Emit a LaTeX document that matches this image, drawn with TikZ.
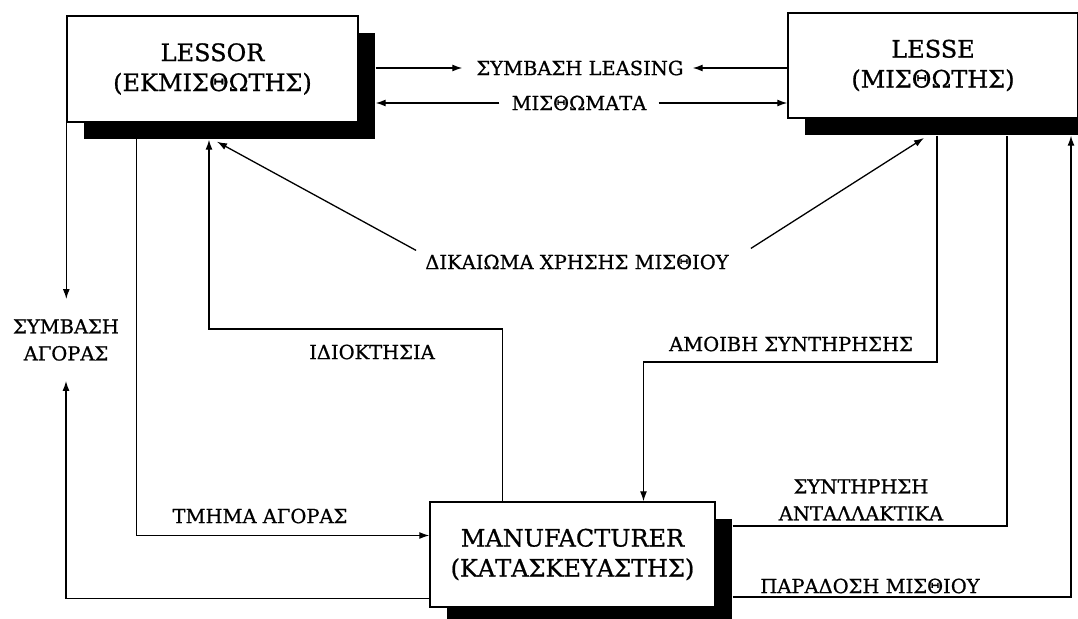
\documentclass[tikz,border=0pt]{standalone}
\usepackage{fontspec}
\setmainfont[FakeBold=0.8]{DejaVu Serif}
\usepackage{tikz}
\usetikzlibrary{arrows.meta,calc,shadows}
\colorlet{Ink}{black}

\begin{document}
\begin{tikzpicture}[
    x=1pt,y=-1pt,
    party/.style={draw=Ink,line width=1.4pt,fill=white,minimum width=291pt,minimum height=106pt,align=center,
      font=\fontsize{24}{30}\selectfont,
      drop shadow={shadow xshift=17pt,shadow yshift=-17pt,fill=Ink,opacity=1}},
    lab/.style={align=center,inner sep=0pt,font=\fontsize{19.5}{27}\selectfont},
    link/.style={line width=1.3pt,Ink},
    flow/.style={link,-{Latex[length=10pt,width=7pt]}}
  ]
    \clip (0,0) rectangle (1078,618);
    % the three parties
    \node[party] (lessor) at (212.5,69) {LESSOR\\(ΕΚΜΙΣΘΩΤΗΣ)};
    \node[party,minimum width=290pt,minimum height=105pt] (lesse) at (933,65.5) {LESSE\\(ΜΙΣΘΩΤΗΣ)};
    \node[party,minimum width=285pt,minimum height=105pt] (man) at (572.5,554.5) {MANUFACTURER\\(ΚΑΤΑΣΚΕΥΑΣΤΗΣ)};
    \coordinate (lessorsh) at ($(lessor.south east)+(17,17)$);
    \coordinate (lessesh) at ($(lesse.south east)+(17,17)$);
    \coordinate (mansh) at ($(man.south east)+(17,17)$);

    % labels
    \node[lab] (leasing) at (580,68) {ΣΥΜΒΑΣΗ LEASING};
    \node[lab] (rent) at (579,103) {ΜΙΣΘΩΜΑΤΑ};
    \node[lab,inner ysep=20pt] (buycontract) at (66,340) {ΣΥΜΒΑΣΗ\\ΑΓΟΡΑΣ};
    \node[lab] (use) at (577,262) {ΔΙΚΑΙΩΜΑ ΧΡΗΣΗΣ ΜΙΣΘΙΟΥ};
    \node[lab] (own) at (372,352) {ΙΔΙΟΚΤΗΣΙΑ};
    \node[lab] (fee) at (791,344) {ΑΜΟΙΒΗ ΣΥΝΤΗΡΗΣΗΣ};
    \node[lab] (buydept) at (260,516) {ΤΜΗΜΑ ΑΓΟΡΑΣ};
    \node[lab] (maint) at (861,500) {ΣΥΝΤΗΡΗΣΗ\\ΑΝΤΑΛΛΑΚΤΙΚΑ};
    \node[lab] (deliv) at (870,586) {ΠΑΡΑΔΟΣΗ ΜΙΣΘΙΟΥ};

    % bends of the connectors
    \coordinate (owncorner) at (209,329);
    \coordinate (usetipR) at (924,138);
    \coordinate (feecorner) at (937,362);
    \coordinate (maintcorner) at (1007,526);
    \coordinate (delivcorner) at (1071,597);

    \draw[flow] (lessorsh |- leasing) -- ([xshift=-14pt]leasing.west);
    \draw[flow] (lesse.west |- leasing) -- ([xshift=9pt]leasing.east);
    \draw[flow] ([xshift=-12pt]rent.west) -- (lessorsh |- rent);
    \draw[flow] ([xshift=12pt]rent.east) -- (lesse.west |- rent);
    \draw[flow] (lessor.south west) -- (lessor.south west |- buycontract.north);
    \draw[flow] ([yshift=9pt]man.south west) -| (buycontract.south);
    \draw[flow] ([xshift=70pt]lessor.south west) |- ([yshift=19pt]man.west);
    \draw[flow] ([xshift=-70pt]man.north) |- (owncorner) -- (owncorner |- lessorsh);
    \draw[flow] ($(use.north west)+(-9,-4)$) -- ($(owncorner |- lessorsh)+(8,2)$);
    \draw[flow] ($(use.north east)+(22,-6)$) -- (usetipR);
    \draw[flow] (feecorner |- lessesh) -- (feecorner) -| ([xshift=71pt]man.north);
    \draw[link] (mansh |- maintcorner) -- (maintcorner) -- (maintcorner |- lessesh);
    \draw[flow] (mansh |- delivcorner) -- (delivcorner) -- (delivcorner |- lessesh);
  \end{tikzpicture}
\end{document}
